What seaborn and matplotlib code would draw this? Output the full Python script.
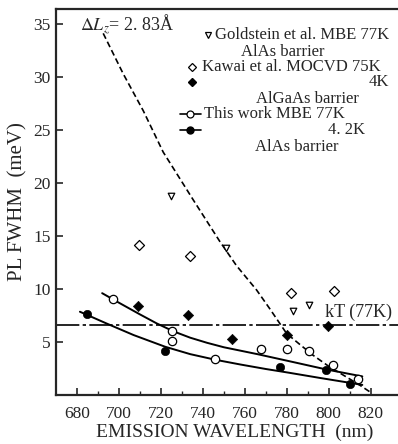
import numpy as np
import pandas as pd
import matplotlib
matplotlib.use("Agg")
import matplotlib.pyplot as plt
import seaborn as sns

# --- datos ---
# Goldstein et al. MBE 77K (triángulos abiertos)
gold_x = [724.6, 751.0, 783.0, 790.6]
gold_y = [18.8, 13.9, 7.9, 8.5]

# Kawai et al. MOCVD 75K (rombos abiertos)
kawai75_x = [709.4, 733.8, 782.2, 802.4]
kawai75_y = [14.1, 13.1, 9.6, 9.8]

# Kawai et al. MOCVD 4K (rombos llenos)
kawai4_x = [708.9, 733.0, 754.1, 780.2, 799.7]
kawai4_y = [8.4, 7.5, 5.3, 5.7, 6.48]

# This work MBE 77K (círculos abiertos)
work77_x = [697.3, 725.2, 725.2, 745.7, 767.6, 779.9, 790.6, 802.0, 814.0]
work77_y = [9.03, 6.0, 5.07, 3.37, 4.38, 4.29, 4.16, 2.87, 1.46]

# This work 4.2K (círculos llenos)
work4_x = [684.7, 722.1, 776.7, 798.9, 810.0]
work4_y = [7.6, 4.16, 2.65, 2.34, 1.08]

# curvas ajustadas
fit77_x = [692, 700, 710, 718, 726, 734, 742, 750, 766, 782, 799, 816]
fit77_y = [9.6, 8.7, 7.6, 6.75, 6.0, 5.4, 4.92, 4.5, 3.85, 3.15, 2.4, 1.75]
fit4_x = [681.4, 694, 707, 722, 734, 746, 758, 770, 781, 796, 810, 816]
fit4_y = [7.85, 6.75, 5.65, 4.55, 3.85, 3.32, 2.87, 2.45, 2.1, 1.6, 1.15, 0.95]

# curva teórica dL_z = 2.83 A
theory_x = [692.5, 702, 711.6, 721.1, 735.4, 748, 756, 765.6, 772, 779.9, 786, 792.5, 800, 808.4, 815, 820.3]
theory_y = [34.1, 30.3, 26.8, 22.9, 18.4, 14.5, 12.2, 9.9, 8.1, 5.8, 4.8, 3.75, 2.7, 1.7, 0.9, 0.2]

kT_77 = 6.6

x_ticks = [680, 700, 720, 740, 760, 780, 800, 820]
y_ticks = [5, 10, 15, 20, 25, 30, 35]

sns.set_style("ticks")
plt.rcParams['font.family'] = ['Liberation Serif', 'DejaVu Serif']
plt.rcParams['mathtext.fontset'] = 'stix'

fig = plt.figure(figsize=(3.98, 4.44), dpi=100)
ax = fig.add_axes([0.1407, 0.1104, 0.8593, 0.8694])

# curvas
sns.lineplot(x=theory_x, y=theory_y, ax=ax, color="black", lw=1.2,
             sort=False).lines[-1].set_dashes((3.6, 2.0))
sns.lineplot(x=fit77_x, y=fit77_y, ax=ax, color="black", lw=1.4, sort=False)
sns.lineplot(x=fit4_x, y=fit4_y, ax=ax, color="black", lw=1.4, sort=False)
ax.axhline(kT_77, color="black", lw=1.2, dashes=(14, 2, 2, 2))

# puntos
sns.scatterplot(x=gold_x, y=gold_y, ax=ax, marker="v", s=22,
                facecolor="white", edgecolor="black", linewidth=0.9, zorder=3)
sns.scatterplot(x=kawai75_x, y=kawai75_y, ax=ax, marker="D", s=26,
                facecolor="white", edgecolor="black", linewidth=0.9, zorder=3)
sns.scatterplot(x=kawai4_x, y=kawai4_y, ax=ax, marker="D", s=28,
                color="black", edgecolor="black", zorder=3)
sns.scatterplot(x=work77_x, y=work77_y, ax=ax, marker="o", s=36,
                facecolor="white", edgecolor="black", linewidth=0.9, zorder=3)
sns.scatterplot(x=work4_x, y=work4_y, ax=ax, marker="o", s=36,
                color="black", edgecolor="black", zorder=3)

ax.set_xlim(670, 833)
ax.set_ylim(0, 36.4)
ax.set_xticks(x_ticks)
ax.set_xticks(np.arange(690, 830, 20), minor=True)
ax.set_yticks(y_ticks)
ax.tick_params(axis="both", which="major", direction="in", length=5, width=1.2,
               labelsize=12.5)
ax.tick_params(axis="x", which="major", pad=8)
ax.tick_params(axis="y", which="major", pad=4)
ax.tick_params(axis="x", which="minor", direction="in", length=3, width=1.0)
ax.spines["right"].set_visible(False)
for s in ["left", "bottom", "top"]:
    ax.spines[s].set_linewidth(1.6)

ax.set_xlabel("EMISSION WAVELENGTH  (nm)", fontsize=14)
ax.xaxis.set_label_coords(0.522, -0.074)
ax.set_ylabel("PL FWHM  (meV)", fontsize=15, labelpad=4)

# texto de la curva y de kT
ax.text(681.4, 34.9, r"$\mathit{\Delta L_z}$= 2. 83Å", fontsize=13, va="center")
ax.text(798, 7.8, "kT (77K)", fontsize=13, va="center")

# leyenda dibujada a mano
fs = 12
ax.plot(742.4, 33.9, "v", ms=4.5, mfc="white", mec="black", mew=0.9)
ax.text(745.7, 33.9, "Goldstein et al. MBE 77K", fontsize=fs, va="center")
ax.text(777.9, 32.3, "AlAs barrier", fontsize=fs, va="center", ha="center")
ax.plot(734.6, 30.9, "D", ms=4.5, mfc="white", mec="black", mew=0.9)
ax.text(739.4, 30.9, "Kawai et al. MOCVD 75K", fontsize=fs, va="center")
ax.plot(734.6, 29.5, "D", ms=4.5, color="black")
ax.text(829, 29.5, "4K", fontsize=fs, va="center", ha="right")
ax.text(789.8, 27.9, "AlGaAs barrier", fontsize=fs, va="center", ha="center")
ax.plot([729, 739], [26.5, 26.5], color="black", lw=1.2)
ax.plot(733.8, 26.5, "o", ms=5, mfc="white", mec="black", mew=0.9)
ax.text(740.5, 26.5, "This work MBE 77K", fontsize=fs, va="center")
ax.plot([729, 739], [25.0, 25.0], color="black", lw=1.2)
ax.plot(733.8, 25.0, "o", ms=5, color="black")
ax.text(817.1, 25.0, "4. 2K", fontsize=fs, va="center", ha="right")
ax.text(784.6, 23.4, "AlAs barrier", fontsize=fs, va="center", ha="center")

plt.savefig("out.png", dpi=100)
plt.close()
